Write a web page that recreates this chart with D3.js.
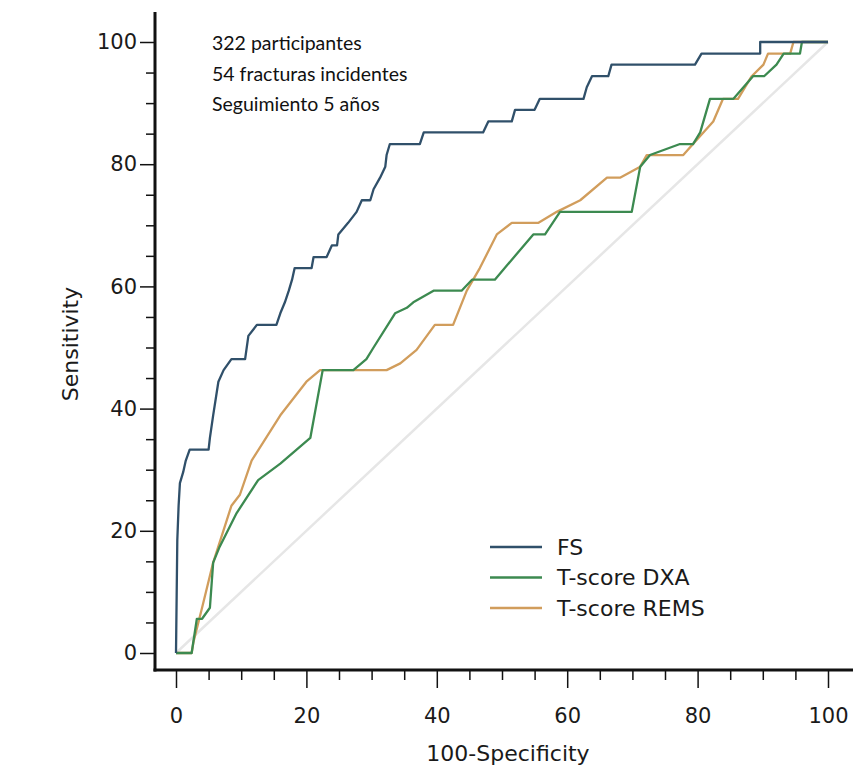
<!DOCTYPE html>
<html>
<head>
<meta charset="utf-8">
<script src="https://cdn.jsdelivr.net/npm/d3@7"></script>
<style>
  body { margin: 0; background: #fff; }
  svg { display: block; }
</style>
</head>
<body>
<svg id="chart" width="853" height="767"></svg>
<script>
// ROC curves, x = 100-Specificity, y = Sensitivity
var fsSpec = [0, 0.2, 0.4, 0.6, 1.1, 1.5, 2.1, 5.0, 5.2, 5.7, 6.5, 7.3, 8.5, 10.6, 11.1, 12.4, 15.4, 16.0, 16.7, 17.3,
    17.8, 18.2, 20.8, 21.1, 23.1, 23.9, 24.7, 24.9, 26.4, 27.7, 28.5, 29.8, 30.3, 31.3, 32.1, 32.3, 32.8, 37.4, 38.0, 47.1,
    47.9, 51.5, 52.0, 55.0, 55.8, 62.5, 63.0, 63.8, 66.3, 66.8, 79.6, 80.6, 89.6, 89.6, 100];
var fsSens = [0, 18.5, 24.1, 27.8, 29.6, 31.5, 33.3, 33.3, 35.2, 38.9, 44.4, 46.3, 48.1, 48.1, 51.9, 53.7, 53.7, 55.6, 57.4, 59.3,
    61.1, 63.0, 63.0, 64.8, 64.8, 66.7, 66.7, 68.5, 70.4, 72.2, 74.1, 74.1, 75.9, 77.8, 79.6, 81.5, 83.3, 83.3, 85.2, 85.2,
    87.0, 87.0, 88.9, 88.9, 90.7, 90.7, 92.6, 94.4, 94.4, 96.3, 96.3, 98.1, 98.1, 100, 100];

var dxaSpec = [0, 2.4, 3.2, 4.0, 5.2, 5.7, 6.7, 9.3, 12.6, 16.0, 20.6, 22.5, 27.2, 29.2, 30.3, 33.6, 35.4, 36.4, 39.5, 43.8,
    45.4, 48.9, 54.8, 56.6, 58.9, 69.9, 71.2, 72.7, 77.3, 79.3, 80.4, 81.9, 85.5, 88.5, 90.2, 92.1, 93.2, 95.7, 96.0, 100];
var dxaSens = [0, 0, 5.6, 5.6, 7.4, 14.8, 17.4, 22.9, 28.3, 31.0, 35.2, 46.3, 46.3, 48.1, 50.0, 55.6, 56.5, 57.4, 59.3, 59.3,
    61.1, 61.1, 68.5, 68.5, 72.2, 72.2, 79.6, 81.5, 83.3, 83.3, 85.2, 90.7, 90.7, 94.4, 94.4, 96.3, 98.1, 98.1, 100, 100];

var remsSpec = [0, 2.4, 2.7, 4.0, 5.7, 8.5, 9.8, 11.6, 16.0, 20.0, 22.1, 32.3, 34.4, 36.9, 39.7, 42.5, 44.6, 46.6, 49.2, 51.5,
    55.6, 58.4, 62.0, 66.1, 68.1, 71.2, 72.2, 75.3, 77.8, 79.3, 82.4, 83.9, 86.2, 88.3, 90.1, 90.8, 94.2, 94.7, 100];
var remsSens = [0, 0, 1.9, 7.4, 14.8, 24.1, 25.9, 31.5, 38.9, 44.4, 46.3, 46.3, 47.4, 49.6, 53.7, 53.7, 59.3, 63.0, 68.5, 70.4,
    70.4, 72.2, 74.1, 77.8, 77.8, 79.6, 81.5, 81.5, 81.5, 83.3, 87.0, 90.7, 90.7, 94.4, 96.3, 98.1, 98.1, 100, 100];

var diagonal = [0, 100];

var seriesNames = ["FS", "T-score DXA", "T-score REMS"];
var seriesColors = ["#30506a", "#3c8a50", "#d19d5c"];

var noteLines = ["322 participantes", "54 fracturas incidentes", "Seguimiento 5 años"];

var xMajor = [0, 20, 40, 60, 80, 100];
var yMajor = [0, 20, 40, 60, 80, 100];

var svg = d3.select("#chart");

var x = d3.scaleLinear().domain([0, 100]).range([176, 828]);
var y = d3.scaleLinear().domain([0, 100]).range([653, 42]);

var axisX = 155, axisY = 670;
var labelFont = "'DejaVu Sans', sans-serif";

function zip(a, b) {
    return a.map(function(v, i) { return [v, b[i]]; });
}

var line = d3.line()
    .x(function(d) { return x(d[0]); })
    .y(function(d) { return y(d[1]); });

// reference diagonal
svg.append("path")
    .datum(zip(diagonal, diagonal))
    .attr("d", line)
    .attr("fill", "none")
    .attr("stroke", "#e6e6e6")
    .attr("stroke-width", 2.5);

// curves, REMS first so FS ends up on top
var curves = [zip(fsSpec, fsSens), zip(dxaSpec, dxaSens), zip(remsSpec, remsSens)];
[2, 1, 0].forEach(function(i) {
    svg.append("path")
        .datum(curves[i])
        .attr("d", line)
        .attr("fill", "none")
        .attr("stroke", seriesColors[i])
        .attr("stroke-width", 2.3)
        .attr("stroke-linejoin", "round");
});

// minor ticks every 5
var minorVals = d3.range(0, 101, 5).filter(function(v) { return v % 20 !== 0; });

svg.append("g")
    .attr("transform", "translate(" + axisX + ",0)")
    .call(d3.axisLeft(y).tickValues(minorVals).tickSize(9).tickFormat(""))
    .call(function(g) { g.select(".domain").remove(); });

var yAxis = svg.append("g")
    .attr("transform", "translate(" + axisX + ",0)")
    .call(d3.axisLeft(y).tickValues(yMajor).tickSize(15).tickPadding(3))
    .call(function(g) { g.select(".domain").remove(); });

svg.append("g")
    .attr("transform", "translate(0," + axisY + ")")
    .call(d3.axisBottom(x).tickValues(minorVals).tickSize(10).tickFormat(""))
    .call(function(g) { g.select(".domain").remove(); });

var xAxis = svg.append("g")
    .attr("transform", "translate(0," + axisY + ")")
    .call(d3.axisBottom(x).tickValues(xMajor).tickSize(18).tickPadding(20))
    .call(function(g) { g.select(".domain").remove(); });

svg.selectAll(".tick line")
    .attr("stroke", "#111")
    .attr("stroke-width", 1.5);

svg.selectAll(".tick text")
    .attr("font-family", labelFont)
    .attr("font-size", 21)
    .attr("fill", "#1a1a1a");

// axis lines
svg.append("line")
    .attr("x1", axisX).attr("x2", axisX)
    .attr("y1", 12).attr("y2", axisY + 1.5)
    .attr("stroke", "#111").attr("stroke-width", 3);
svg.append("line")
    .attr("x1", axisX - 1.5).attr("x2", 853)
    .attr("y1", axisY).attr("y2", axisY)
    .attr("stroke", "#111").attr("stroke-width", 3);

// axis titles
svg.append("text")
    .attr("x", 508).attr("y", 761)
    .attr("text-anchor", "middle")
    .attr("font-family", labelFont)
    .attr("font-size", 22)
    .attr("fill", "#1a1a1a")
    .text("100-Specificity");

svg.append("text")
    .attr("transform", "translate(70,344) rotate(-90)")
    .attr("text-anchor", "middle")
    .attr("dominant-baseline", "central")
    .attr("font-family", labelFont)
    .attr("font-size", 22)
    .attr("fill", "#1a1a1a")
    .text("Sensitivity");

// note text
svg.append("g").selectAll("text")
    .data(noteLines)
    .join("text")
    .attr("x", 212)
    .attr("y", function(d, i) { return 50 + i * 30.7; })
    .attr("font-family", "Lato, 'Open Sans', sans-serif")
    .attr("font-size", 19.5)
    .attr("fill", "#111")
    .text(function(d) { return d; });

// legend
var legend = svg.append("g").attr("transform", "translate(490,547)");
var items = legend.selectAll("g")
    .data(seriesNames)
    .join("g")
    .attr("transform", function(d, i) { return "translate(0," + (i * 30.5) + ")"; });

items.append("line")
    .attr("x1", 0).attr("x2", 52)
    .attr("stroke", function(d, i) { return seriesColors[i]; })
    .attr("stroke-width", 2.5);

items.append("text")
    .attr("x", 67)
    .attr("dominant-baseline", "central")
    .attr("font-family", labelFont)
    .attr("font-size", 22)
    .attr("fill", "#1a1a1a")
    .text(function(d) { return d; });
</script>
</body>
</html>
